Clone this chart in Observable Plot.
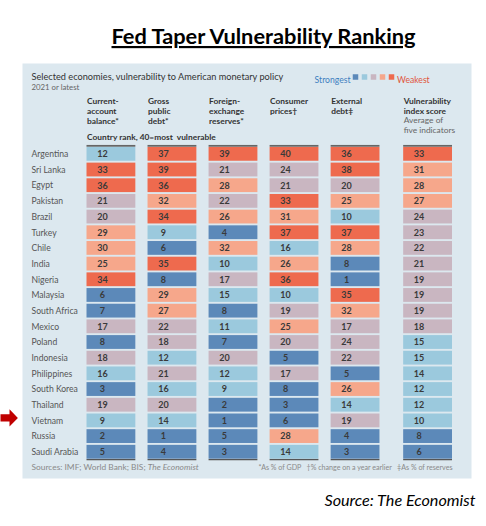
<!DOCTYPE html>
<html><head><meta charset="utf-8">
<script src="https://cdn.jsdelivr.net/npm/d3@7"></script>
<script src="https://cdn.jsdelivr.net/npm/@observablehq/plot@0.6"></script>
<style>body{margin:0;background:#fff;} svg{display:block}</style>
</head><body><div id="chart"></div>
<script>
const countries = ["Argentina","Sri Lanka","Egypt","Pakistan","Brazil","Turkey","Chile","India","Nigeria","Malaysia","South Africa","Mexico","Poland","Indonesia","Philippines","South Korea","Thailand","Vietnam","Russia","Saudi Arabia"];
const currentAccount = [12,33,36,21,20,29,30,25,34,6,7,17,8,18,16,3,19,9,2,5];
const grossDebt      = [37,39,36,32,34,9,6,35,8,29,27,22,18,12,21,16,20,14,1,4];
const fxReserves     = [39,21,28,22,26,4,32,10,17,15,8,11,7,20,12,9,2,1,5,3];
const consumerPrices = [40,24,21,33,31,37,16,26,36,10,19,25,20,5,17,8,3,6,28,14];
const externalDebt   = [36,38,20,25,10,37,28,8,1,35,32,17,24,22,5,26,14,19,4,3];
const indexScore     = [33,31,28,27,24,23,22,21,19,19,19,18,15,15,14,12,12,10,8,6];

const columnKeys = ["ca","gd","fx","cp","ed","vi"];
const columnHeaders = [
  ["Current-","account","balance*"],
  ["Gross","public","debt*"],
  ["Foreign-","exchange","reserves*"],
  ["Consumer","prices\u2020"],
  ["External","debt\u2021"],
  ["Vulnerability","index score"]
];
const indexNote = ["Average of","five indicators"];
const binThresholds = [9,17,25,33];
const binColors = ["#5c89b9","#9bc9dd","#c9b6c1","#f6a78b","#ee6a4e"];
const legendValues = [4,12,20,28,36];
const highlighted = ["Vietnam"];

const titleText = "Fed Taper Vulnerability Ranking";
const subtitleText = "Selected economies, vulnerability to American monetary policy";
const dateText = "2021 or latest";
const rankText = "Country rank, 40=most  vulnerable";
const sourcesText = "Sources: IMF; World Bank; BIS; ";
const sourcesItalic = "The Economist";
const notesText = "*As % of GDP   \u2020% change on a year earlier   \u2021As % of reserves";
const sourceCaption = "Source: The Economist";

const series = {ca: currentAccount, gd: grossDebt, fx: fxReserves, cp: consumerPrices, ed: externalDebt, vi: indexScore};
const cells = columnKeys.flatMap(k => countries.map((c, i) => ({col: k, country: c, value: series[k][i]})));
const mainCells = cells.filter(d => d.col !== "vi");
const indexCells = cells.filter(d => d.col === "vi");
const headerRows = columnKeys.map((k, i) => ({col: k, label: columnHeaders[i].join("\n")}));

const FONT = "Lato, sans-serif";
const yRange = [146, 459.6], pI = 0.12, pO = 0.06;
const step = (yRange[1] - yRange[0]) / (countries.length - pI + 2 * pO);
const bw = step * (1 - pI);
const xRange = [86.5, 440.5], xPI = 0.2;
const xStep = (xRange[1] - xRange[0]) / (columnKeys.length - xPI);
const xBw = xStep * (1 - xPI);
const idxShift = 11.5;

const footSize = 8.4;
const ctx = document.createElement("canvas").getContext("2d");
ctx.font = `${footSize}px ${FONT}`;
const srcW = ctx.measureText(sourcesText).width;

// block arrow symbol (fixed pixel geometry, centred)
const arrowSymbol = {
  draw(c) {
    c.moveTo(-8.7, -3.6);
    c.lineTo(0.3, -3.6);
    c.lineTo(0.3, -8.6);
    c.lineTo(8.7, 0);
    c.lineTo(0.3, 8.6);
    c.lineTo(0.3, 3.6);
    c.lineTo(-8.7, 3.6);
    c.closePath();
  }
};

const first = countries[0], last = countries[countries.length - 1];

const plot = Plot.plot({
  width: 486, height: 526,
  marginLeft: 22, marginRight: 15, marginTop: 63, marginBottom: 48,
  style: {fontFamily: FONT, background: "#fff", overflow: "visible"},
  x: {domain: columnKeys, range: xRange, paddingInner: xPI, paddingOuter: 0, round: false, axis: null},
  y: {domain: countries, range: yRange, paddingInner: pI, paddingOuter: pO, round: false, axis: null},
  color: {type: "threshold", domain: binThresholds, range: binColors},
  marks: [
    Plot.frame({fill: "#dce8ef", stroke: "none"}),
    // title
    Plot.text([titleText], {frameAnchor: "top", text: d => d, dx: 16.5, dy: -35, fontSize: 21.8, fontWeight: "bold", fill: "#000"}),
    // subtitle
    Plot.text([subtitleText], {frameAnchor: "top-left", text: d => d, textAnchor: "start", dx: 9, dy: 10, fontSize: 9.2, fill: "#333"}),
    Plot.text([dateText], {frameAnchor: "top-left", text: d => d, textAnchor: "start", dx: 9, dy: 21, fontSize: 7.8, fill: "#666"}),
    // legend
    Plot.text(["Strongest"], {frameAnchor: "top-left", text: d => d, textAnchor: "end", dx: 328, dy: 13, fontSize: 8.6, fill: "#3f7fbf"}),
    ...legendValues.map((v, i) => Plot.dot([v], {frameAnchor: "top-left", fill: d => d, symbol: "square", r: 3.1, dx: 333 + i * 9, dy: 13.5})),
    Plot.text(["Weakest"], {frameAnchor: "top-left", text: d => d, textAnchor: "start", dx: 374.5, dy: 13, fontSize: 8.6, fill: "#e0553c"}),
    // headers
    Plot.text(headerRows.filter(d => d.col !== "vi"), {x: "col", text: "label", frameAnchor: "top", lineAnchor: "top", textAnchor: "start", dx: -xBw / 2, dy: 33, lineHeight: 1.2, fontSize: 8.4, fontWeight: "bold", fill: "#333"}),
    Plot.text(headerRows.filter(d => d.col === "vi"), {x: "col", text: "label", frameAnchor: "top", lineAnchor: "top", textAnchor: "start", dx: -xBw / 2 + idxShift, dy: 33, lineHeight: 1.2, fontSize: 8.4, fontWeight: "bold", fill: "#333"}),
    Plot.text([indexNote.join("\n")], {x: () => "vi", text: d => d, frameAnchor: "top", lineAnchor: "top", textAnchor: "start", dx: -xBw / 2 + idxShift, dy: 52.5, lineHeight: 1.15, fontSize: 8.4, fill: "#666"}),
    Plot.text([rankText], {x: () => "ca", text: d => d, frameAnchor: "top", textAnchor: "start", dx: -xBw / 2, dy: 71, fontSize: 8.4, fontWeight: "bold", fill: "#333"}),
    // top and bottom rules per column
    Plot.cell(columnKeys.filter(k => k !== "vi"), {x: d => d, y: () => first, fill: "#666", insetTop: -2, insetBottom: bw + 0.2}),
    Plot.cell(["vi"], {x: d => d, y: () => first, fill: "#666", insetTop: -2, insetBottom: bw + 0.2, dx: idxShift}),
    Plot.cell(columnKeys.filter(k => k !== "vi"), {x: d => d, y: () => last, fill: "#555", insetTop: bw + 0.2, insetBottom: -1.6}),
    Plot.cell(["vi"], {x: d => d, y: () => last, fill: "#555", insetTop: bw + 0.2, insetBottom: -1.6, dx: idxShift}),
    // cells
    Plot.cell(mainCells, {x: "col", y: "country", fill: "value"}),
    Plot.cell(indexCells, {x: "col", y: "country", fill: "value", dx: idxShift}),
    Plot.text(mainCells, {x: "col", y: "country", text: d => String(d.value), dx: -9, fontSize: 9, fontWeight: "bold", fill: "#3a3a3a"}),
    Plot.text(indexCells, {x: "col", y: "country", text: d => String(d.value), dx: -9 + idxShift, fontSize: 9, fontWeight: "bold", fill: "#3a3a3a"}),
    // country labels
    Plot.text(countries, {y: d => d, text: d => d, frameAnchor: "left", textAnchor: "start", dx: 9, fontSize: 8.6, fill: "#555"}),
    // arrow pointing at highlighted country
    Plot.dot(highlighted, {y: d => d, frameAnchor: "left", symbol: arrowSymbol, r: 5, fill: "#c00000", stroke: "none", dx: -13.3, dy: -3}),
    // footnotes
    Plot.text([sourcesText], {frameAnchor: "bottom-left", text: d => d, textAnchor: "start", dx: 9, dy: -9, fontSize: footSize, fill: "#8a8a8a"}),
    Plot.text([sourcesItalic], {frameAnchor: "bottom-left", text: d => d, textAnchor: "start", dx: 9 + srcW, dy: -9, fontSize: footSize, fontStyle: "italic", fill: "#8a8a8a"}),
    Plot.text([notesText], {frameAnchor: "bottom-right", text: d => d, textAnchor: "end", dx: -19, dy: -9, fontSize: 7.1, fill: "#8a8a8a"}),
    // caption
    Plot.text([sourceCaption], {frameAnchor: "bottom-right", text: d => d, textAnchor: "end", dx: 4, dy: 27, fontSize: 16.2, fontStyle: "italic", fill: "#000"})
  ]
});
d3.select(plot).selectAll("text").filter(function() { return this.textContent === titleText; })
  .style("text-decoration", "underline");
document.getElementById("chart").append(plot);
</script>
</body></html>
